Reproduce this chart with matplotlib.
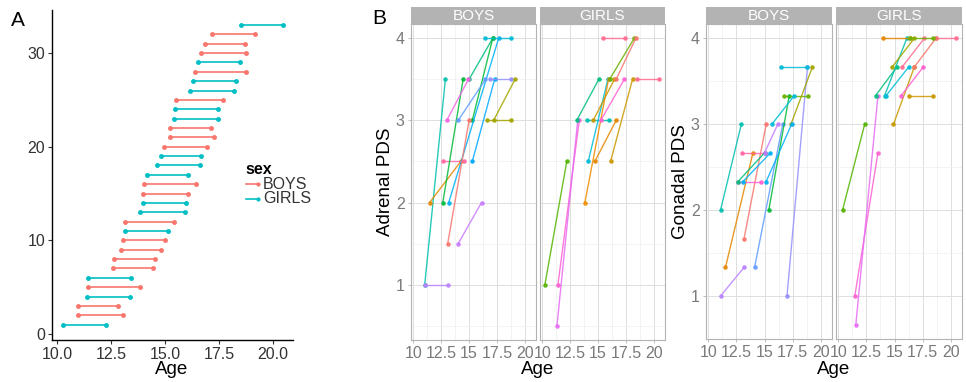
import numpy as np
import matplotlib
matplotlib.use('Agg')
import matplotlib.pyplot as plt
from matplotlib.lines import Line2D

plt.rcParams['font.family'] = ['Liberation Sans', 'DejaVu Sans']

# ---- panel A: age range per subject (rows 1..33) ----
row_sex = ['G', 'B', 'B', 'G', 'B', 'G', 'B', 'B', 'B', 'B', 'G', 'B', 'G', 'G', 'B', 'B', 'G',
           'G', 'G', 'B', 'B', 'B', 'G', 'G', 'B', 'G', 'G', 'B', 'G', 'B', 'B', 'B', 'G']
age_start = [10.28, 10.97, 10.97, 11.37, 11.45, 11.45, 12.59, 12.65, 12.95, 13.04, 13.13,
             13.16, 13.86, 13.98, 13.98, 14.03, 14.18, 14.65, 14.80, 14.95, 15.23, 15.23,
             15.42, 15.48, 15.51, 16.17, 16.28, 16.37, 16.53, 16.68, 16.87, 17.16, 18.52]
age_end = [12.25, 13.06, 12.81, 13.38, 13.84, 13.43, 14.46, 14.52, 14.83, 14.98, 15.14,
           15.43, 15.93, 15.97, 16.05, 16.44, 16.06, 16.64, 16.65, 16.94, 17.27, 17.13,
           17.45, 17.48, 17.67, 18.19, 18.30, 18.75, 18.49, 18.77, 18.72, 19.15, 20.49]
sex_colors = {'B': '#F8766D', 'G': '#00BFC4'}

# ---- panel B: segments (age1, age2, pds1, pds2, colour) per facet ----
adr_boys = [
    (11.03, 12.88, 1.0, 3.5, '#00C0AF'),
    (11.03, 13.09, 1.0, 1.0, '#B983FF'),
    (11.47, 14.26, 2.0, 2.5, '#E58700'),
    (12.65, 14.56, 2.5, 2.5, '#FF67A4'),
    (12.65, 14.47, 2.0, 3.5, '#00BA38'),
    (15.00, 17.12, 3.5, 4.0, '#00BF7D'),
    (15.29, 17.12, 3.0, 4.0, '#00BA38'),
    (13.18, 17.65, 2.0, 4.0, '#00B0F6'),
    (15.29, 17.29, 2.5, 3.5, '#00A9FF'),
    (13.09, 15.00, 1.5, 3.0, '#F8766D'),
    (14.03, 16.12, 1.5, 2.0, '#C77CFF'),
    (13.00, 14.94, 3.0, 3.5, '#F564E3'),
    (14.03, 16.47, 3.0, 3.5, '#619CFF'),
    (16.91, 18.74, 3.5, 3.5, '#9590FF'),
    (16.62, 18.74, 3.0, 3.0, '#A3A500'),
    (17.20, 19.12, 3.0, 3.5, '#A3A500'),
    (16.41, 18.74, 4.0, 4.0, '#00BCD8'),
]
adr_girls = [
    (10.24, 12.20, 1.0, 2.5, '#53B400'),
    (11.41, 13.32, 1.0, 3.0, '#FD61D1'),
    (11.32, 13.18, 0.5, 3.0, '#E76BF3'),
    (13.09, 15.06, 3.0, 3.5, '#00BF7D'),
    (13.97, 15.94, 3.0, 3.0, '#00C0AF'),
    (14.12, 15.88, 2.5, 3.5, '#00BCD8'),
    (13.82, 15.94, 2.0, 3.5, '#F08C00'),
    (14.71, 16.62, 2.5, 3.0, '#E58700'),
    (16.12, 18.09, 2.5, 3.5, '#C99800'),
    (14.56, 16.47, 3.0, 3.5, '#C99800'),
    (15.24, 17.35, 3.0, 3.5, '#FD61D1'),
    (15.44, 17.41, 4.0, 4.0, '#FF6C91'),
    (18.47, 20.44, 3.5, 3.5, '#FF6C91'),
    (16.03, 18.24, 3.5, 4.0, '#6BB100'),
    (16.62, 18.38, 3.5, 4.0, '#F8766D'),
]
gon_boys = [
    (11.09, 12.94, 2.0, 3.0, '#00C0AF'),
    (11.53, 13.97, 4 / 3, 8 / 3, '#E58700'),
    (11.09, 13.18, 1.0, 4 / 3, '#B983FF'),
    (13.18, 15.15, 5 / 3, 3.0, '#F8766D'),
    (14.12, 16.62, 4 / 3, 3.0, '#619CFF'),
    (17.00, 18.82, 1.0, 11 / 3, '#9590FF'),
    (16.47, 18.82, 11 / 3, 11 / 3, '#00BCD8'),
    (15.38, 17.20, 2.0, 10 / 3, '#00BA38'),
    (16.76, 18.88, 10 / 3, 10 / 3, '#6BB100'),
    (17.35, 19.26, 3.0, 11 / 3, '#A3A500'),
    (12.65, 14.65, 7 / 3, 7 / 3, '#FD61D1'),
    (13.00, 15.00, 8 / 3, 8 / 3, '#FF67A4'),
    (12.65, 15.00, 7 / 3, 8 / 3, '#00BF7D'),
    (13.09, 15.53, 7 / 3, 8 / 3, '#00B0F6'),
    (15.65, 17.65, 3.0, 10 / 3, '#00BCD8'),
    (15.00, 16.18, 8 / 3, 3.0, '#C77CFF'),
    (15.15, 17.41, 7 / 3, 3.0, '#00B0F6'),
]
gon_girls = [
    (10.38, 12.35, 2.0, 3.0, '#53B400'),
    (11.47, 13.53, 1.0, 8 / 3, '#FD61D1'),
    (11.56, 13.53, 2 / 3, 10 / 3, '#E76BF3'),
    (13.32, 15.21, 10 / 3, 11 / 3, '#00BF7D'),
    (14.12, 16.09, 10 / 3, 4.0, '#00C0AF'),
    (14.26, 16.26, 10 / 3, 11 / 3, '#00BCD8'),
    (13.97, 16.38, 4.0, 4.0, '#E58700'),
    (18.68, 20.49, 4.0, 4.0, '#FF6C91'),
    (14.91, 16.76, 3.0, 11 / 3, '#C99800'),
    (16.26, 18.38, 10 / 3, 10 / 3, '#C99800'),
    (15.59, 17.56, 10 / 3, 11 / 3, '#FD61D1'),
    (14.79, 16.76, 11 / 3, 4.0, '#A3A500'),
    (15.68, 17.65, 11 / 3, 4.0, '#FF6C91'),
    (16.76, 18.68, 11 / 3, 4.0, '#F8766D'),
    (16.38, 18.38, 4.0, 4.0, '#6BB100'),
]

x_ticks = [10, 12.5, 15, 17.5, 20]
x_tick_labels = ['10', '12.5', '15', '17.5', '20']

W, H = 966, 382
fig = plt.figure(figsize=(W / 100, H / 100), dpi=100)


def box(l, t, r, b):
    return [l / W, 1 - b / H, (r - l) / W, (b - t) / H]


# ---------------- panel A ----------------
axA = fig.add_axes(box(52, 10, 293, 340))
for i in range(len(age_start)):
    c = sex_colors[row_sex[i]]
    axA.plot([age_start[i], age_end[i]], [i + 1, i + 1], color=c, lw=1.2,
             marker='o', ms=2.5, solid_capstyle='butt')
axA.set_xlim(9.77, 20.93)
axA.set_ylim(-0.64, 34.6)
axA.set_xticks([10, 12.5, 15, 17.5, 20])
axA.set_xticklabels(['10.0', '12.5', '15.0', '17.5', '20.0'])
axA.set_yticks([0, 10, 20, 30])
for s in ['top', 'right']:
    axA.spines[s].set_visible(False)
for s in ['left', 'bottom']:
    axA.spines[s].set_linewidth(1.0)
axA.tick_params(labelsize=11.5, colors='#333333', length=3, width=0.8, pad=2)
fig.text(172 / W, 1 - 369 / H, 'Age', fontsize=13.5, ha='center', va='center')
fig.text(11 / W, 1 - 21 / H, 'A', fontsize=15, va='center', ha='left')

# legend
fig.text(245 / W, 1 - 170 / H, 'sex', fontsize=11.5, fontweight='bold', va='center')
for k, (lab, key) in enumerate([('BOYS', 'B'), ('GIRLS', 'G')]):
    yy = 1 - (184 + 14.5 * k) / H
    fig.add_artist(Line2D([246 / W, 258 / W], [yy, yy], color=sex_colors[key], lw=1.2,
                          marker='o', ms=2, markevery=[1]))
    fig.text(263 / W, yy, lab, fontsize=11.5, color='#333333', va='center')


# ---------------- panel B ----------------
def facet(rect, segs, title, ylim, show_y):
    ax = fig.add_axes(box(*rect))
    for a1, a2, p1, p2, c in segs:
        ax.plot([a1, a2], [p1, p2], color=c, lw=1.0, marker='o', ms=2.3, alpha=0.85)
    ax.set_xlim(9.8, 21.0)
    ax.set_ylim(*ylim)
    ax.set_xticks(x_ticks)
    ax.set_xticklabels(x_tick_labels)
    ax.set_xticks([11.25, 13.75, 16.25, 18.75], minor=True)
    ax.set_yticks([1, 2, 3, 4])
    ax.set_yticks([0.5, 1.5, 2.5, 3.5], minor=True)
    ax.grid(which='major', color='#DEDEDE', lw=0.7)
    ax.grid(which='minor', color='#EEEEEE', lw=0.5)
    ax.set_axisbelow(True)
    for s in ax.spines.values():
        s.set_color('#B3B3B3')
        s.set_linewidth(0.8)
    ax.tick_params(which='major', labelsize=11.5, colors='#B3B3B3', labelcolor='#7A7A7A',
                   length=2.5, width=0.6, pad=2)
    ax.tick_params(which='minor', length=0)
    if not show_y:
        ax.tick_params(axis='y', labelleft=False, length=0)
    # strip
    l, t, r, b = rect
    sax = fig.add_axes(box(l, t - 17, r, t - 0.5))
    sax.set_facecolor('#B3B3B3')
    sax.set_xticks([])
    sax.set_yticks([])
    for s in sax.spines.values():
        s.set_visible(False)
    sax.text(0.5, 0.45, title, color='white', fontsize=11, ha='center', va='center',
             transform=sax.transAxes)
    return ax


adr_lim = (0.325, 4.175)
gon_lim = (0.5, 4.167)
ax1 = facet((411, 24, 536, 340), adr_boys, 'BOYS', adr_lim, True)
ax2 = facet((540, 24, 665, 340), adr_girls, 'GIRLS', adr_lim, False)
ax3 = facet((706, 24, 832, 339), gon_boys, 'BOYS', gon_lim, True)
ax4 = facet((836, 24, 962, 339), gon_girls, 'GIRLS', gon_lim, False)

ax1.set_ylabel('Adrenal PDS', fontsize=13.5, labelpad=1)
ax3.set_ylabel('Gonadal PDS', fontsize=13.5, labelpad=1)
fig.text(538 / W, 1 - 370 / H, 'Age', fontsize=13.5, ha='center', va='center')
fig.text(834 / W, 1 - 370 / H, 'Age', fontsize=13.5, ha='center', va='center')
fig.text(372 / W, 1 - 19 / H, 'B', fontsize=15, va='center', ha='left')

fig.savefig('out.png', dpi=100)
